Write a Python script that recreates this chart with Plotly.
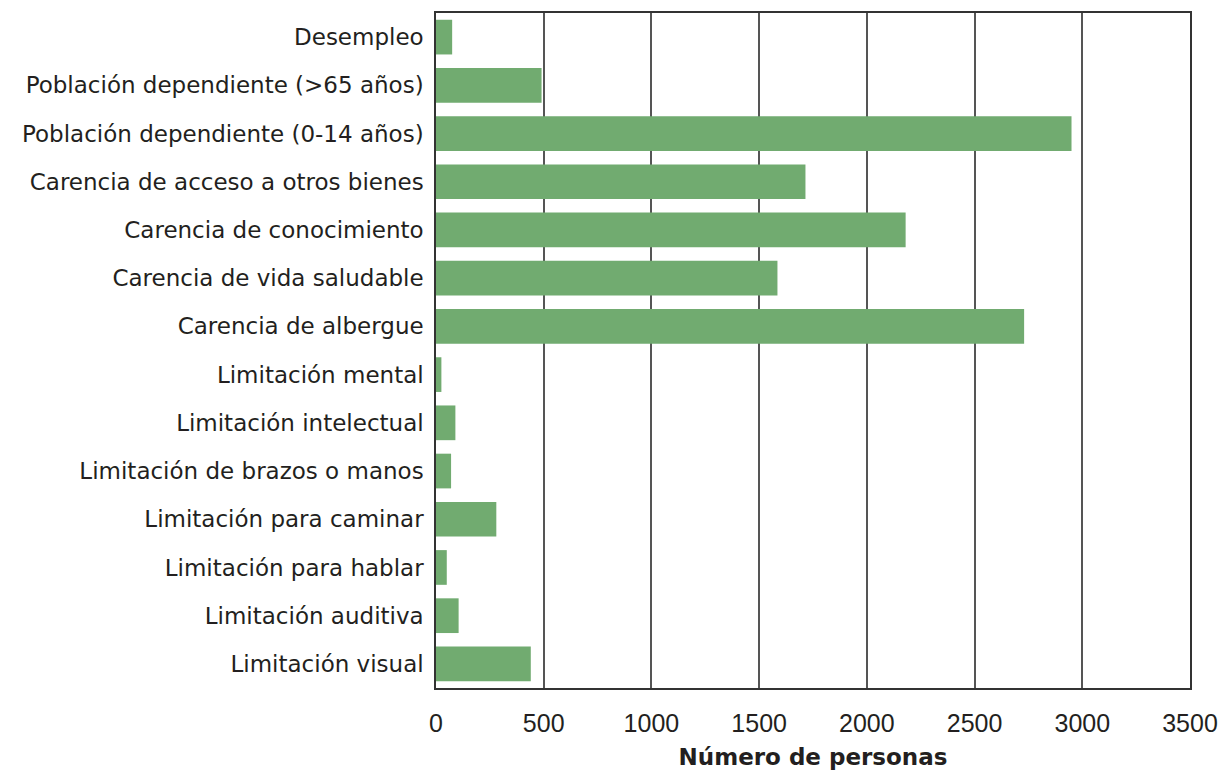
import plotly.graph_objects as go

categories = [
    "Desempleo",
    "Población dependiente (>65 años)",
    "Población dependiente (0-14 años)",
    "Carencia de acceso a otros bienes",
    "Carencia de conocimiento",
    "Carencia de vida saludable",
    "Carencia de albergue",
    "Limitación mental",
    "Limitación intelectual",
    "Limitación de brazos o manos",
    "Limitación para caminar",
    "Limitación para hablar",
    "Limitación auditiva",
    "Limitación visual",
]
values = [75, 490, 2950, 1715, 2180, 1585, 2730, 25, 90, 70, 280, 50, 105, 440]
x_ticks = [0, 500, 1000, 1500, 2000, 2500, 3000, 3500]
x_title = "Número de personas"

fig = go.Figure(
    go.Bar(
        x=values,
        y=categories,
        orientation="h",
        marker=dict(color="#71ab70", line=dict(width=0)),
        hoverinfo="x+y",
    )
)

fig.update_layout(
    width=1220,
    height=770,
    margin=dict(l=436, r=30, t=13, b=82),
    paper_bgcolor="white",
    plot_bgcolor="white",
    bargap=0.28,
    showlegend=False,
    font=dict(family="Liberation Sans, Arial, sans-serif", color="#231f20"),
)

fig.update_xaxes(
    range=[0, 3500],
    tickvals=x_ticks,
    ticktext=[str(v) for v in x_ticks],
    tickfont=dict(family="Liberation Sans, Arial, sans-serif", size=25, color="#231f20"),
    showgrid=True,
    gridcolor="#555555",
    gridwidth=1.5,
    zeroline=False,
    showline=True,
    linecolor="#333333",
    linewidth=1.5,
    mirror=True,
    ticks="",
    ticklabelstandoff=12,
    automargin=False,
    title=dict(
        text=x_title,
        font=dict(family="DejaVu Sans, sans-serif", size=23, color="#231f20", weight="bold"),
        standoff=14,
    ),
)

fig.update_yaxes(
    categoryorder="array",
    categoryarray=categories,
    autorange="reversed",
    tickfont=dict(family="DejaVu Sans, sans-serif", size=23, color="#231f20"),
    showgrid=False,
    zeroline=False,
    showline=True,
    linecolor="#333333",
    linewidth=1.5,
    mirror=True,
    ticks="",
    ticklabelstandoff=6,
    automargin=False,
)

fig.write_html("out.html")
